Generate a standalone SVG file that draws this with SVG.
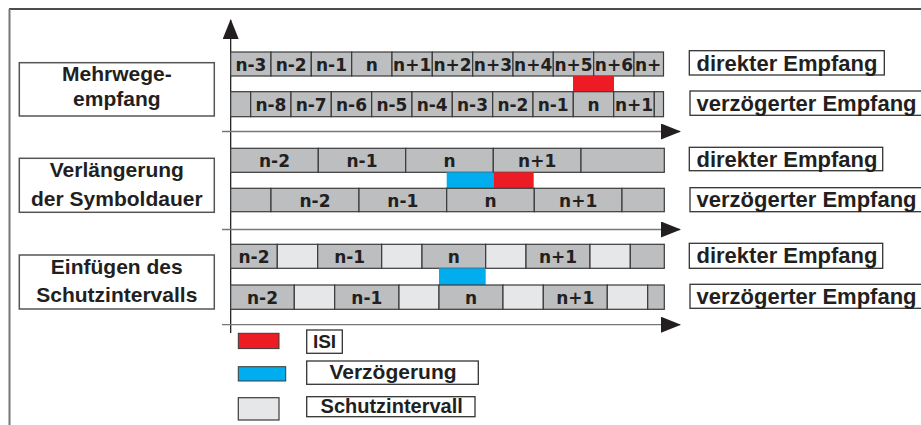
<svg xmlns="http://www.w3.org/2000/svg" width="921" height="425" viewBox="0 0 921 425">
<style>
.c{fill:#bcbec0;stroke:#3a3a3a;stroke-width:1.2}
.g{fill:#e6e7e8;stroke:#3a3a3a;stroke-width:1.2}
.ct{font-family:"DejaVu Sans",sans-serif;font-weight:bold;font-size:17px;fill:#231f20;text-anchor:middle}
.lb{fill:#fff;stroke:#333;stroke-width:1.3}
.lt{font-family:"Liberation Sans",Arial,sans-serif;font-weight:bold;font-size:22px;fill:#231f20}
.st{font-family:"Liberation Sans",Arial,sans-serif;font-weight:bold;font-size:21px;fill:#231f20;text-anchor:middle}
.box{fill:#fff;stroke:#555;stroke-width:1.5}
.ax{stroke:#777;stroke-width:1.3;fill:none}
.red{fill:#ed1c24}
.blue{fill:#00aeef}
</style>
<defs>
<marker id="ah" viewBox="0 0 20 16" refX="19" refY="8" markerWidth="20" markerHeight="16" markerUnits="userSpaceOnUse" orient="auto">
<path d="M0,0 L20,8 L0,16 Z" fill="#231f20"/>
</marker>
</defs>
<rect x="0" y="0" width="921" height="425" fill="#fff"/>
<line x1="9" y1="9" x2="921" y2="9" stroke="#111" stroke-width="1.6"/>
<line x1="9.5" y1="9" x2="9.5" y2="425" stroke="#777" stroke-width="2"/>

<g id="connectors">
<line x1="230.7" y1="333" x2="230.7" y2="20" stroke="#111" stroke-width="1.2" marker-end="url(#ah)"/>
<line class="ax" x1="222" y1="131.5" x2="680" y2="131.5" marker-end="url(#ah)"/>
<line class="ax" x1="222" y1="229.5" x2="680" y2="229.5" marker-end="url(#ah)"/>
<line class="ax" x1="222" y1="324.7" x2="680" y2="324.7" marker-end="url(#ah)"/>
</g>

<g id="label-mehrwege">
<rect class="box" x="19.3" y="62.7" width="195" height="53.3"/>
<text class="st" x="116.8" y="80.7">Mehrwege-</text>
<text class="st" x="116.8" y="105.7">empfang</text>
</g>
<g id="label-verlaengerung">
<rect class="box" x="19.3" y="158.3" width="195" height="54"/>
<text class="st" x="116.8" y="177.3">Verlängerung</text>
<text class="st" x="116.8" y="205.7">der Symboldauer</text>
</g>
<g id="label-schutz">
<rect class="box" x="19.3" y="255" width="195" height="54"/>
<text class="st" x="116.8" y="274.3">Einfügen des</text>
<text class="st" x="116.8" y="301.7">Schutzintervalls</text>
</g>

<g id="row1-direct">
<rect class="c" x="230.7" y="52" width="40.3" height="24"/>
<rect class="c" x="271" y="52" width="40.3" height="24"/>
<rect class="c" x="311.3" y="52" width="40.4" height="24"/>
<rect class="c" x="351.7" y="52" width="40.3" height="24"/>
<rect class="c" x="392" y="52" width="40.3" height="24"/>
<rect class="c" x="432.3" y="52" width="40.4" height="24"/>
<rect class="c" x="472.7" y="52" width="40.3" height="24"/>
<rect class="c" x="513" y="52" width="40.3" height="24"/>
<rect class="c" x="553.3" y="52" width="40.4" height="24"/>
<rect class="c" x="593.7" y="52" width="40.3" height="24"/>
<rect class="c" x="634" y="52" width="29.5" height="24"/>
<text class="ct" x="250.9" y="70.7">n-3</text>
<text class="ct" x="291.2" y="70.7">n-2</text>
<text class="ct" x="331.5" y="70.7">n-1</text>
<text class="ct" x="371.9" y="70.7">n</text>
<text class="ct" x="412.2" y="70.7">n+1</text>
<text class="ct" x="452.5" y="70.7">n+2</text>
<text class="ct" x="492.9" y="70.7">n+3</text>
<text class="ct" x="533.2" y="70.7">n+4</text>
<text class="ct" x="573.5" y="70.7">n+5</text>
<text class="ct" x="613.9" y="70.7">n+6</text>
<text class="ct" x="635" y="70.7" style="text-anchor:start">n+</text>
</g>
<rect id="isi-1" class="red" x="573" y="76" width="41" height="15.7"/>
<g id="row1-delayed">
<rect class="c" x="230.7" y="91.7" width="20" height="25"/>
<rect class="c" x="250.7" y="91.7" width="40.3" height="25"/>
<rect class="c" x="291" y="91.7" width="40.3" height="25"/>
<rect class="c" x="331.3" y="91.7" width="40.4" height="25"/>
<rect class="c" x="371.7" y="91.7" width="40.3" height="25"/>
<rect class="c" x="412" y="91.7" width="40.3" height="25"/>
<rect class="c" x="452.3" y="91.7" width="40.4" height="25"/>
<rect class="c" x="492.7" y="91.7" width="40.3" height="25"/>
<rect class="c" x="533" y="91.7" width="40.3" height="25"/>
<rect class="c" x="573.3" y="91.7" width="40.4" height="25"/>
<rect class="c" x="613.7" y="91.7" width="40.6" height="25"/>
<rect class="c" x="654.3" y="91.7" width="9.2" height="25"/>
<text class="ct" x="270.9" y="111">n-8</text>
<text class="ct" x="311.2" y="111">n-7</text>
<text class="ct" x="351.5" y="111">n-6</text>
<text class="ct" x="391.9" y="111">n-5</text>
<text class="ct" x="432.2" y="111">n-4</text>
<text class="ct" x="472.5" y="111">n-3</text>
<text class="ct" x="512.9" y="111">n-2</text>
<text class="ct" x="553.2" y="111">n-1</text>
<text class="ct" x="593.5" y="111">n</text>
<text class="ct" x="634" y="111">n+1</text>
</g>

<g id="row2-direct">
<rect class="c" x="230.7" y="148.3" width="87.6" height="24"/>
<rect class="c" x="318.3" y="148.3" width="87.4" height="24"/>
<rect class="c" x="405.7" y="148.3" width="87.6" height="24"/>
<rect class="c" x="493.3" y="148.3" width="87.7" height="24"/>
<rect class="c" x="581" y="148.3" width="83.3" height="24"/>
<text class="ct" x="274.5" y="167">n-2</text>
<text class="ct" x="362" y="167">n-1</text>
<text class="ct" x="449.5" y="167">n</text>
<text class="ct" x="537.2" y="167">n+1</text>
</g>
<rect id="delay-2" class="blue" x="446.7" y="172.3" width="46.6" height="16"/>
<rect id="isi-2" class="red" x="493.3" y="172.3" width="40.4" height="16"/>
<g id="row2-delayed">
<rect class="c" x="230.7" y="188.3" width="40.3" height="23.4"/>
<rect class="c" x="271" y="188.3" width="88" height="23.4"/>
<rect class="c" x="359" y="188.3" width="87.7" height="23.4"/>
<rect class="c" x="446.7" y="188.3" width="87.6" height="23.4"/>
<rect class="c" x="534.3" y="188.3" width="87.7" height="23.4"/>
<rect class="c" x="622" y="188.3" width="42.3" height="23.4"/>
<text class="ct" x="315" y="206.7">n-2</text>
<text class="ct" x="402.8" y="206.7">n-1</text>
<text class="ct" x="490.5" y="206.7">n</text>
<text class="ct" x="578.2" y="206.7">n+1</text>
</g>

<g id="row3-direct">
<rect class="c" x="230.7" y="244.3" width="46.6" height="24"/>
<rect class="g" x="277.3" y="244.3" width="40.4" height="24"/>
<rect class="c" x="317.7" y="244.3" width="64" height="24"/>
<rect class="g" x="381.7" y="244.3" width="40.3" height="24"/>
<rect class="c" x="422" y="244.3" width="63.7" height="24"/>
<rect class="g" x="485.7" y="244.3" width="40.3" height="24"/>
<rect class="c" x="526" y="244.3" width="64" height="24"/>
<rect class="g" x="590" y="244.3" width="40.3" height="24"/>
<rect class="c" x="630.3" y="244.3" width="34" height="24"/>
<text class="ct" x="254" y="263">n-2</text>
<text class="ct" x="349.7" y="263">n-1</text>
<text class="ct" x="453.8" y="263">n</text>
<text class="ct" x="558" y="263">n+1</text>
</g>
<rect id="delay-3" class="blue" x="439" y="268.3" width="46.7" height="16.7"/>
<g id="row3-delayed">
<rect class="c" x="230.7" y="285" width="63.6" height="24.3"/>
<rect class="g" x="294.3" y="285" width="40.4" height="24.3"/>
<rect class="c" x="334.7" y="285" width="64.3" height="24.3"/>
<rect class="g" x="399" y="285" width="40" height="24.3"/>
<rect class="c" x="439" y="285" width="64" height="24.3"/>
<rect class="g" x="503" y="285" width="40.3" height="24.3"/>
<rect class="c" x="543.3" y="285" width="64" height="24.3"/>
<rect class="g" x="607.3" y="285" width="40.4" height="24.3"/>
<rect class="c" x="647.7" y="285" width="16.6" height="24.3"/>
<text class="ct" x="262.5" y="303.8">n-2</text>
<text class="ct" x="366.8" y="303.8">n-1</text>
<text class="ct" x="471" y="303.8">n</text>
<text class="ct" x="575.3" y="303.8">n+1</text>
</g>

<g id="tag-direct-1">
<rect class="lb" x="689.3" y="50.7" width="195" height="24.3"/>
<text class="lt" x="696.5" y="70.7">direkter Empfang</text>
</g>
<g id="tag-delayed-1">
<rect class="lb" x="690" y="91" width="240" height="24.3"/>
<text class="lt" x="696.5" y="110.8">verzögerter Empfang</text>
</g>
<g id="tag-direct-2">
<rect class="lb" x="689.3" y="147.3" width="193.4" height="23.4"/>
<text class="lt" x="696.5" y="166.5">direkter Empfang</text>
</g>
<g id="tag-delayed-2">
<rect class="lb" x="690" y="187.7" width="240" height="24"/>
<text class="lt" x="696.5" y="207">verzögerter Empfang</text>
</g>
<g id="tag-direct-3">
<rect class="lb" x="689.3" y="243.3" width="193.4" height="25"/>
<text class="lt" x="696.5" y="263">direkter Empfang</text>
</g>
<g id="tag-delayed-3">
<rect class="lb" x="690" y="284.3" width="240" height="24"/>
<text class="lt" x="696.5" y="303.7">verzögerter Empfang</text>
</g>

<g id="legend-isi">
<rect class="red" x="238.3" y="333.3" width="40.7" height="15.3" stroke="#3a3a3a" stroke-width="1"/>
<rect class="lb" x="306.7" y="330" width="35.6" height="23.3"/>
<text class="st" x="324.5" y="348.3" style="font-size:19px">ISI</text>
</g>
<g id="legend-delay">
<rect class="blue" x="238.3" y="366.7" width="47.4" height="14.3" stroke="#3a3a3a" stroke-width="1"/>
<rect class="lb" x="306.7" y="361" width="171.6" height="23.3"/>
<text class="st" x="393" y="379.3">Verzögerung</text>
</g>
<g id="legend-guard">
<rect class="g" x="238.3" y="397.7" width="40.7" height="22.3"/>
<rect class="lb" x="306.7" y="396.7" width="168.3" height="20"/>
<text class="st" x="391.7" y="412.7" style="font-size:20px">Schutzintervall</text>
</g>
</svg>
